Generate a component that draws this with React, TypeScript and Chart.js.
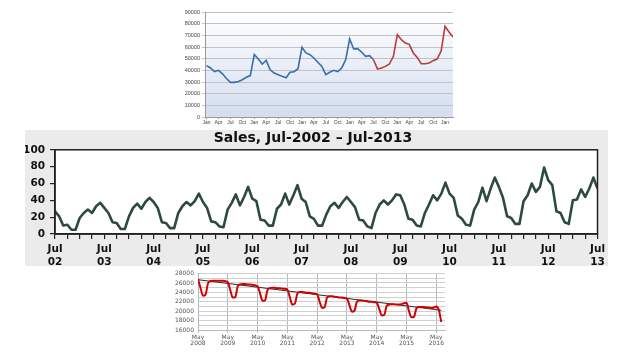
import React, { useEffect, useRef } from 'react';
import { Chart, registerables } from 'chart.js';
Chart.register(...registerables);

// ---------- Top chart (monthly, Jan Y1 .. Mar Y6) ----------
const MONTHS = ['Jan', 'Feb', 'Mar', 'Apr', 'May', 'Jun', 'Jul', 'Aug', 'Sep', 'Oct', 'Nov', 'Dec'];
const topActual = [
  44000, 42000, 39000, 40000, 37000, 33000, 29700, 29700, 30500, 32000, 34000, 35500,
  53500, 49700, 45400, 48500, 40500, 37700, 36300, 34900, 33700, 38300, 38800, 41400,
  59700, 54900, 53400, 50600, 46900, 43400, 36300, 38300, 40000, 38900, 42000, 49100,
  66900, 58300, 58600, 55700, 52000, 52600, 49100,
];
const topForecast = [
  41100, 42000, 43400, 45400, 52000,
  70600, 66300, 63400, 62300, 54900, 51100, 45700, 45700, 46300, 48300, 49700, 56300,
  77700, 72900, 68600,
];

// ---------- Middle chart (monthly, Jul 2002 .. Jul 2013) ----------
const salesYears = ['02', '03', '04', '05', '06', '07', '08', '09', '10', '11', '12', '13'];
const salesValues = [
  27, 21, 10, 11, 5, 5, 19, 25, 29, 25, 33, 37,
  31, 25, 14, 13, 6, 6, 21, 31, 36, 30, 38, 43,
  38, 31, 14, 13, 7, 7, 25, 33, 38, 34, 39, 48,
  38, 31, 15, 14, 9, 8, 29, 37, 47, 34, 44, 56,
  42, 39, 17, 16, 10, 10, 30, 35, 48, 35, 46, 58,
  42, 38, 21, 18, 10, 10, 23, 33, 37, 31, 38, 44,
  38, 32, 17, 16, 9, 7, 25, 35, 40, 35, 40, 47,
  46, 35, 18, 17, 10, 9, 25, 35, 46, 40, 48, 61,
  48, 43, 22, 18, 11, 10, 29, 38, 55, 39, 54, 67,
  56, 43, 21, 19, 12, 12, 39, 46, 60, 50, 56, 79,
  64, 58, 27, 25, 14, 12, 40, 41, 53, 44, 54, 67,
  54,
];

// ---------- Bottom chart (monthly, May 2008 .. Jul 2016) ----------
const bottomYears = ['2008', '2009', '2010', '2011', '2012', '2013', '2014', '2015', '2016'];
const bottomValues = [
  26800, 25000, 23300, 23500, 25900, 26400, 26500, 26500, 26500, 26500, 26500, 26400,
  26200, 24500, 22900, 23000, 25300, 25700, 25800, 25800, 25700, 25700, 25600, 25500,
  25300, 23800, 22200, 22300, 24500, 24900, 25000, 25000, 24900, 24900, 24800, 24800,
  24600, 23000, 21400, 21600, 23700, 24100, 24100, 24000, 23900, 23900, 23800, 23700,
  23600, 22000, 20700, 20900, 22900, 23200, 23200, 23100, 23000, 22900, 22900, 22800,
  22700, 21300, 19900, 20100, 22000, 22300, 22300, 22200, 22100, 22000, 22000, 21900,
  21800, 20500, 19100, 19200, 21100, 21400, 21500, 21500, 21400, 21400, 21500, 21700,
  21800, 20000, 18700, 18800, 20600, 20900, 20900, 20900, 20800, 20800, 20700, 20800,
  21000, 20300, 17700,
];
const trendMonths = [0, 98];
const trendValues = [26700, 20200];

const topBgPlugin = {
  id: 'topBg',
  beforeDraw(chart: any) {
    const { ctx, chartArea: a } = chart;
    const g = ctx.createLinearGradient(0, a.top, 0, a.bottom);
    g.addColorStop(0, '#ffffff');
    g.addColorStop(1, '#d4def0');
    ctx.save();
    ctx.fillStyle = g;
    ctx.fillRect(a.left, a.top, a.right - a.left, a.bottom - a.top);
    ctx.restore();
  },
};

const midFramePlugin = {
  id: 'midFrame',
  beforeDraw(chart: any) {
    const { ctx, chartArea: a } = chart;
    ctx.save();
    ctx.fillStyle = '#ffffff';
    ctx.fillRect(a.left, a.top, a.right - a.left, a.bottom - a.top);
    ctx.restore();
  },
  afterDraw(chart: any) {
    const { ctx, chartArea: a } = chart;
    ctx.save();
    ctx.strokeStyle = '#222';
    ctx.lineWidth = 1.5;
    ctx.strokeRect(a.left, a.top, a.right - a.left, a.bottom - a.top);
    ctx.restore();
  },
};

function topConfig(): any {
  const forecastStart = topActual.length - 1;
  return {
    type: 'line',
    data: {
      datasets: [
        {
          data: topActual.map((v, i) => ({ x: i, y: v })),
          borderColor: '#3a6eaa',
          borderWidth: 1.6,
          pointRadius: 0,
          tension: 0,
        },
        {
          data: [topActual[forecastStart], ...topForecast].map((v, i) => ({ x: forecastStart + i, y: v })),
          borderColor: '#be3a36',
          borderWidth: 1.6,
          pointRadius: 0,
          tension: 0,
        },
      ],
    },
    options: {
      animation: false,
      responsive: false,
      devicePixelRatio: 1,
      events: [],
      layout: { padding: { top: 12, right: 7, left: 0, bottom: 0 } },
      plugins: { legend: { display: false }, tooltip: { enabled: false } },
      scales: {
        x: {
          type: 'linear',
          min: -0.4,
          max: 62,
          afterFit: (s: any) => { s.height = 11; },
          ticks: {
            stepSize: 3,
            includeBounds: false,
            autoSkip: false,
            maxRotation: 0,
            padding: 1,
            font: { family: 'Liberation Sans', size: 5 },
            color: '#444',
            callback: (v: number) => MONTHS[((v % 12) + 12) % 12],
          },
          grid: { drawOnChartArea: false, tickLength: 2, color: '#999' },
          border: { color: '#999' },
        },
        y: {
          min: 0,
          max: 90000,
          afterFit: (s: any) => { s.width = 35; },
          ticks: {
            stepSize: 10000,
            autoSkip: false,
            padding: 2,
            font: { family: 'Liberation Sans', size: 5.5 },
            color: '#444',
            callback: (v: number) => String(v),
          },
          grid: { color: '#c2c2c2', tickLength: 3 },
          border: { color: '#999' },
        },
      },
    },
    plugins: [topBgPlugin],
  };
}

function midConfig(): any {
  const font = { family: 'DejaVu Sans', size: 10.5, weight: 'bold' as const, lineHeight: 1.3 };
  return {
    type: 'line',
    data: {
      datasets: [
        {
          data: salesValues.map((v, i) => ({ x: i, y: v })),
          borderColor: '#2d4a3f',
          borderWidth: 2.6,
          pointRadius: 0,
          tension: 0,
          borderJoinStyle: 'round',
        },
      ],
    },
    options: {
      animation: false,
      responsive: false,
      devicePixelRatio: 1,
      events: [],
      layout: { padding: { top: 0, right: 7, left: 0, bottom: 0 } },
      plugins: {
        legend: { display: false },
        tooltip: { enabled: false },
        title: {
          display: true,
          text: 'Sales, Jul-2002 \u2013 Jul-2013',
          color: '#111',
          font: { family: 'DejaVu Sans', size: 14, weight: 'bold' },
          padding: { top: 0, bottom: 3 },
        },
      },
      scales: {
        x: {
          type: 'linear',
          min: 0,
          max: 132,
          afterFit: (s: any) => { s.height = 32; },
          ticks: {
            stepSize: 3,
            autoSkip: false,
            maxRotation: 0,
            padding: 3,
            font,
            color: '#111',
            callback: (v: number) => (v % 12 === 0 ? ['Jul', salesYears[v / 12]] : ''),
          },
          grid: { drawOnChartArea: false, tickLength: 5, color: '#222', lineWidth: 1.2 },
          border: { color: '#222', width: 1.5 },
        },
        y: {
          min: 0,
          max: 100,
          afterFit: (s: any) => { s.width = 30; },
          ticks: { stepSize: 20, autoSkip: false, padding: 5, font, color: '#111' },
          grid: { drawOnChartArea: false, tickLength: 5, color: '#222', lineWidth: 1.2 },
          border: { color: '#222', width: 1.5 },
        },
      },
    },
    plugins: [midFramePlugin],
  };
}

function bottomConfig(): any {
  return {
    type: 'line',
    data: {
      datasets: [
        {
          data: bottomValues.map((v, i) => ({ x: i, y: v })),
          borderColor: '#d00000',
          borderWidth: 2,
          pointRadius: 0,
          cubicInterpolationMode: 'monotone',
        },
        {
          data: trendMonths.map((m, i) => ({ x: m, y: trendValues[i] })),
          borderColor: '#2a2a2a',
          borderWidth: 1,
          pointRadius: 0,
        },
      ],
    },
    options: {
      animation: false,
      responsive: false,
      devicePixelRatio: 1,
      events: [],
      layout: { padding: { top: 5, right: 10, left: 0, bottom: 0 } },
      plugins: { legend: { display: false }, tooltip: { enabled: false } },
      scales: {
        x: {
          type: 'linear',
          min: 0,
          max: 99.5,
          afterFit: (s: any) => { s.height = 20; },
          ticks: {
            stepSize: 12,
            includeBounds: false,
            autoSkip: false,
            maxRotation: 0,
            padding: 1,
            font: { family: 'DejaVu Sans', size: 6, lineHeight: 1.05 },
            color: '#555',
            callback: (v: number) => (v % 12 === 0 ? ['May', bottomYears[v / 12]] : ''),
          },
          grid: { color: '#a9bacb', tickLength: 3 },
          border: { color: '#bbbbbb' },
        },
        y: {
          min: 16000,
          max: 28000,
          afterFit: (s: any) => { s.width = 38; },
          ticks: {
            stepSize: 1000,
            autoSkip: false,
            padding: 4,
            font: { family: 'DejaVu Sans', size: 6 },
            color: '#555',
            callback: (v: number) => (v % 2000 === 0 ? String(v) : ''),
          },
          grid: { color: '#cfcfcf', drawTicks: false },
          border: { color: '#a9bacb' },
        },
      },
    },
  };
}

function ChartBox(props: { left: number; top: number; width: number; height: number; bg?: string; make: () => any }) {
  const ref = useRef<HTMLCanvasElement>(null);
  useEffect(() => {
    const chart = new Chart(ref.current as HTMLCanvasElement, props.make());
    return () => chart.destroy();
  }, []);
  return (
    <canvas
      ref={ref}
      width={props.width}
      height={props.height}
      style={{
        position: 'absolute',
        left: props.left,
        top: props.top,
        width: props.width,
        height: props.height,
        background: props.bg || 'transparent',
      }}
    />
  );
}

export default function App() {
  return (
    <div style={{ position: 'fixed', left: 0, top: 0, width: 632, height: 363, background: '#ffffff', overflow: 'hidden' }}>
      <ChartBox left={170} top={0} width={290} height={128} make={topConfig} />
      <ChartBox left={25} top={130} width={583} height={136} bg="#ebebeb" make={midConfig} />
      <ChartBox left={160} top={266} width={295} height={84} make={bottomConfig} />
    </div>
  );
}
